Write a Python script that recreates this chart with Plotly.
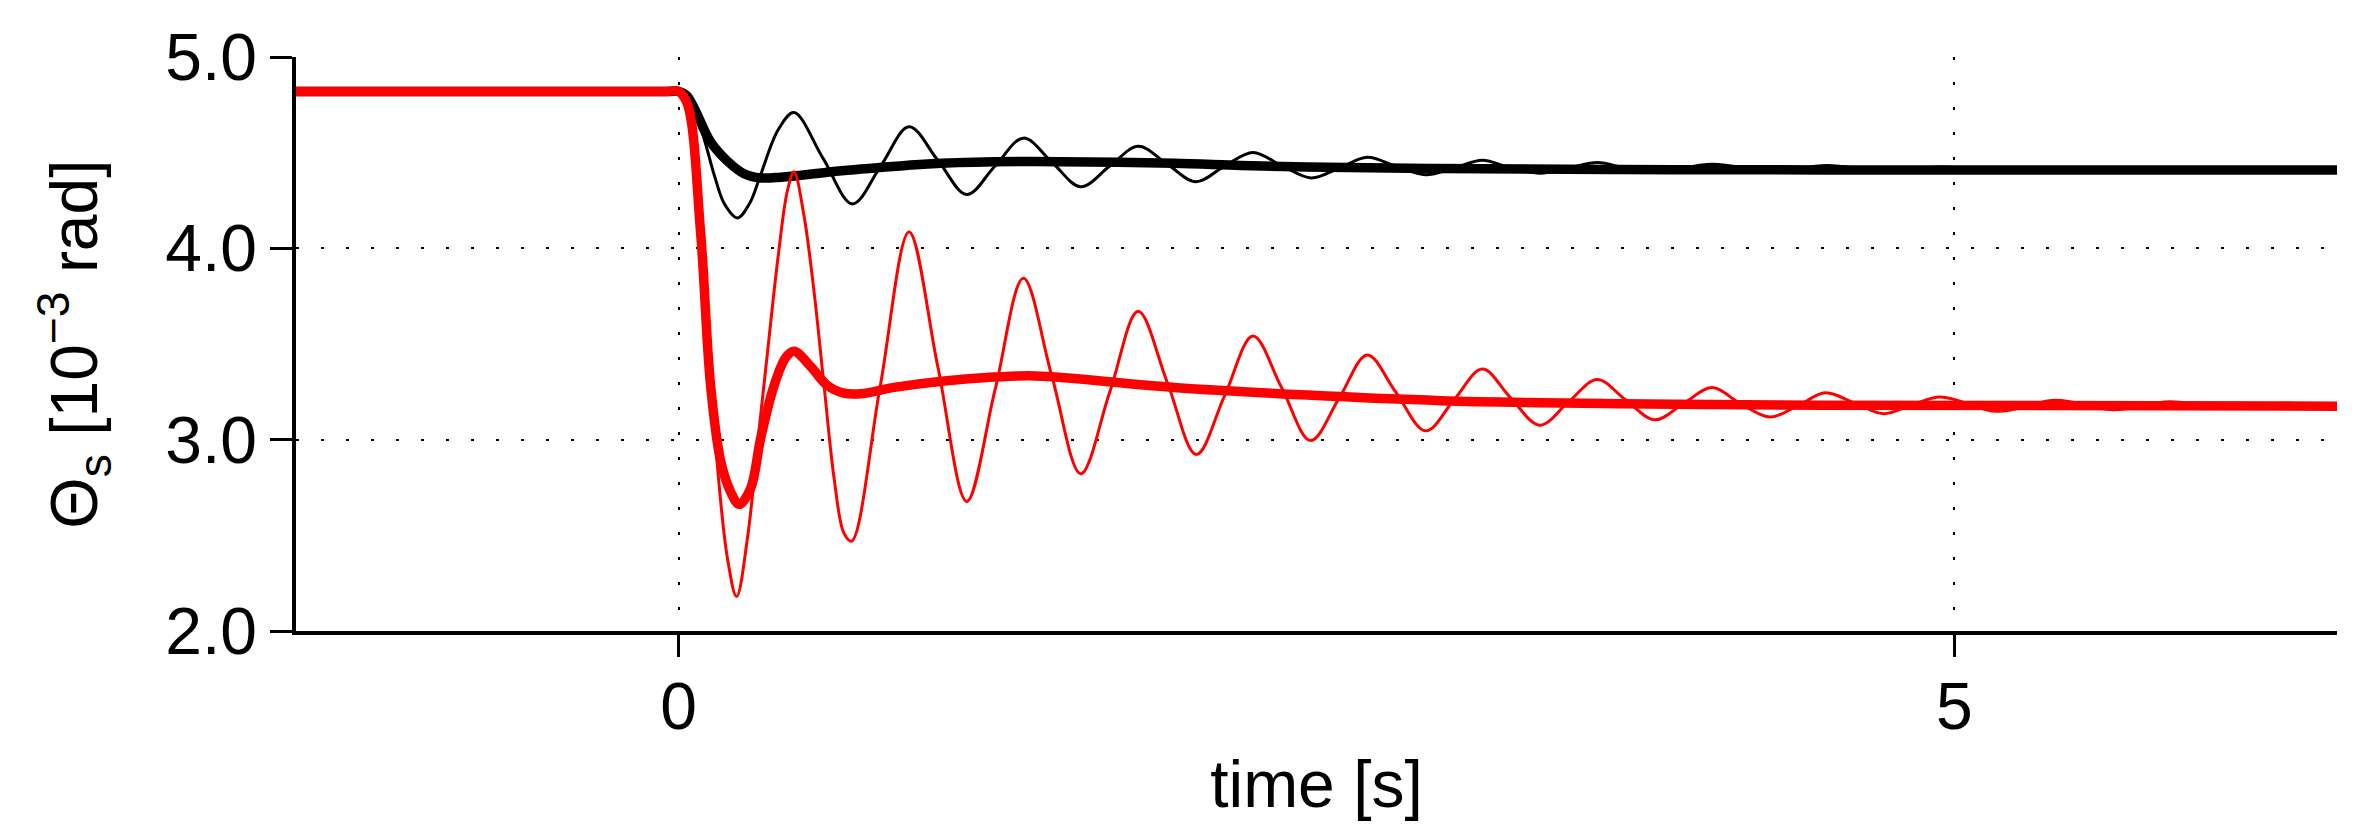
import plotly.graph_objects as go

# values (time in s, angle in 10^-3 rad)
t_thin_red = [-1.5, -0.05, 0.0, 0.04, 0.09, 0.14, 0.19, 0.227, 0.27, 0.31, 0.35, 0.39, 0.426, 0.452,
              0.49, 0.53, 0.57, 0.61, 0.648, 0.678, 0.79, 0.903, 1.016, 1.129, 1.24, 1.351, 1.463,
              1.576, 1.69, 1.801, 1.915, 2.029, 2.14, 2.251, 2.364, 2.477, 2.59, 2.699, 2.81, 2.928,
              3.04, 3.150, 3.26, 3.375, 3.49, 3.600, 3.71, 3.826, 3.94, 4.050, 4.16, 4.278, 4.39,
              4.495, 4.61, 4.722, 4.83, 4.947, 5.169, 5.397, 5.624, 5.844, 6.071, 6.294, 6.5]
theta_thin_red = [4.82, 4.82, 4.82, 4.74, 4.00, 3.05, 2.39, 2.18, 2.49, 2.99, 3.48, 3.96, 4.30, 4.40,
                  4.18, 3.78, 3.28, 2.79, 2.51, 2.47, 3.28, 4.085, 3.38, 2.677, 3.26, 3.844, 3.33,
                  2.822, 3.25, 3.671, 3.30, 2.922, 3.23, 3.542, 3.27, 2.995, 3.22, 3.443, 3.25, 3.046,
                  3.21, 3.369, 3.22, 3.076, 3.20, 3.315, 3.21, 3.104, 3.19, 3.272, 3.19, 3.118, 3.18,
                  3.245, 3.19, 3.136, 3.18, 3.223, 3.148, 3.206, 3.157, 3.198, 3.163, 3.190, 3.175]

t_thick_red = [-1.5, -0.05, 0.0, 0.034, 0.086, 0.125, 0.165, 0.204, 0.237, 0.282, 0.321, 0.374, 0.42,
               0.452, 0.517, 0.583, 0.648, 0.713, 0.844, 1.04, 1.236, 1.40, 1.942, 2.464, 2.987,
               3.693, 4.476, 6.5]
theta_thick_red = [4.82, 4.82, 4.82, 4.755, 4.08, 3.283, 2.885, 2.726, 2.662, 2.746, 3.005, 3.283, 3.43,
                   3.462, 3.383, 3.283, 3.243, 3.240, 3.273, 3.307, 3.327, 3.333, 3.273, 3.233, 3.204,
                   3.188, 3.180, 3.175]

t_thin_black = [-1.5, -0.05, 0.0, 0.05, 0.10, 0.14, 0.18, 0.230, 0.28, 0.32, 0.39, 0.452, 0.566, 0.681,
                0.792, 0.903, 1.016, 1.129, 1.24, 1.351, 1.463, 1.576, 1.69, 1.801, 1.915, 2.027,
                2.14, 2.251, 2.366, 2.480, 2.59, 2.699, 2.81, 2.928, 3.04, 3.150, 3.26, 3.377, 3.49,
                3.601, 3.71, 3.826, 4.052, 4.28, 4.50, 4.72, 4.95, 5.17, 5.40, 5.62, 5.85, 6.5]
theta_thin_black = [4.82, 4.82, 4.82, 4.76, 4.57, 4.38, 4.23, 4.159, 4.24, 4.38, 4.62, 4.710, 4.47, 4.232,
                    4.43, 4.636, 4.46, 4.282, 4.43, 4.576, 4.45, 4.322, 4.43, 4.533, 4.44, 4.348,
                    4.43, 4.501, 4.43, 4.368, 4.42, 4.476, 4.43, 4.385, 4.42, 4.461, 4.42, 4.393, 4.42,
                    4.448, 4.42, 4.398, 4.440, 4.402, 4.433, 4.405, 4.425, 4.407, 4.418, 4.409, 4.414, 4.41]

t_thick_black = [-1.5, -0.05, 0.0, 0.03, 0.06, 0.125, 0.19, 0.256, 0.321, 0.40, 0.452, 0.583, 0.779,
                 0.975, 1.236, 1.497, 1.942, 2.203, 2.464, 2.987, 3.693, 4.5, 6.5]
theta_thick_black = [4.82, 4.82, 4.82, 4.80, 4.735, 4.556, 4.457, 4.39, 4.368, 4.372, 4.378, 4.398, 4.421,
                     4.441, 4.452, 4.453, 4.445, 4.433, 4.425, 4.417, 4.412, 4.41, 4.41]

x_ticks = [0, 5]
y_ticks = [2, 3, 4, 5]
y_ticktext = ["2.0", "3.0", "4.0", "5.0"]

font = "Liberation Sans, Arial, Helvetica, sans-serif"

fig = go.Figure()
fig.add_trace(go.Scatter(x=t_thick_black, y=theta_thick_black, mode="lines",
                         line=dict(color="black", width=9.5, shape="spline")))
fig.add_trace(go.Scatter(x=t_thin_black, y=theta_thin_black, mode="lines",
                         line=dict(color="black", width=3, shape="spline")))
fig.add_trace(go.Scatter(x=t_thick_red, y=theta_thick_red, mode="lines",
                         line=dict(color="red", width=9.5, shape="spline")))
fig.add_trace(go.Scatter(x=t_thin_red, y=theta_thin_red, mode="lines",
                         line=dict(color="red", width=3, shape="spline")))

axis_style = dict(showline=True, linecolor="black", linewidth=3.5, ticks="outside", ticklen=22,
                  tickwidth=2.5, tickcolor="black", showgrid=True, gridcolor="black", gridwidth=2,
                  griddash="3px,22px", zeroline=False, tickfont=dict(size=66, color="black"))

fig.update_xaxes(range=[-1.5, 6.5], tickvals=x_ticks, ticktext=[str(v) for v in x_ticks],
                 ticklabelstandoff=-7,
                 title=dict(text="time [s]", font=dict(size=66, color="black"), standoff=20),
                 **axis_style)
fig.update_yaxes(range=[2, 5], tickvals=y_ticks, ticktext=y_ticktext,
                 title=dict(text="Θ<sub>s</sub> [10<sup>−3</sup> rad]", font=dict(size=66, color="black"),
                            standoff=47),
                 **axis_style)

# the page body adds an 8 px margin, so the figure is 16 px smaller than the window
fig.update_layout(width=2355, height=824, showlegend=False,
                  margin=dict(l=288, r=26, t=46, b=201, pad=0),
                  paper_bgcolor="white", plot_bgcolor="white",
                  font=dict(family=font, color="black"))

fig.write_html("out.html")
